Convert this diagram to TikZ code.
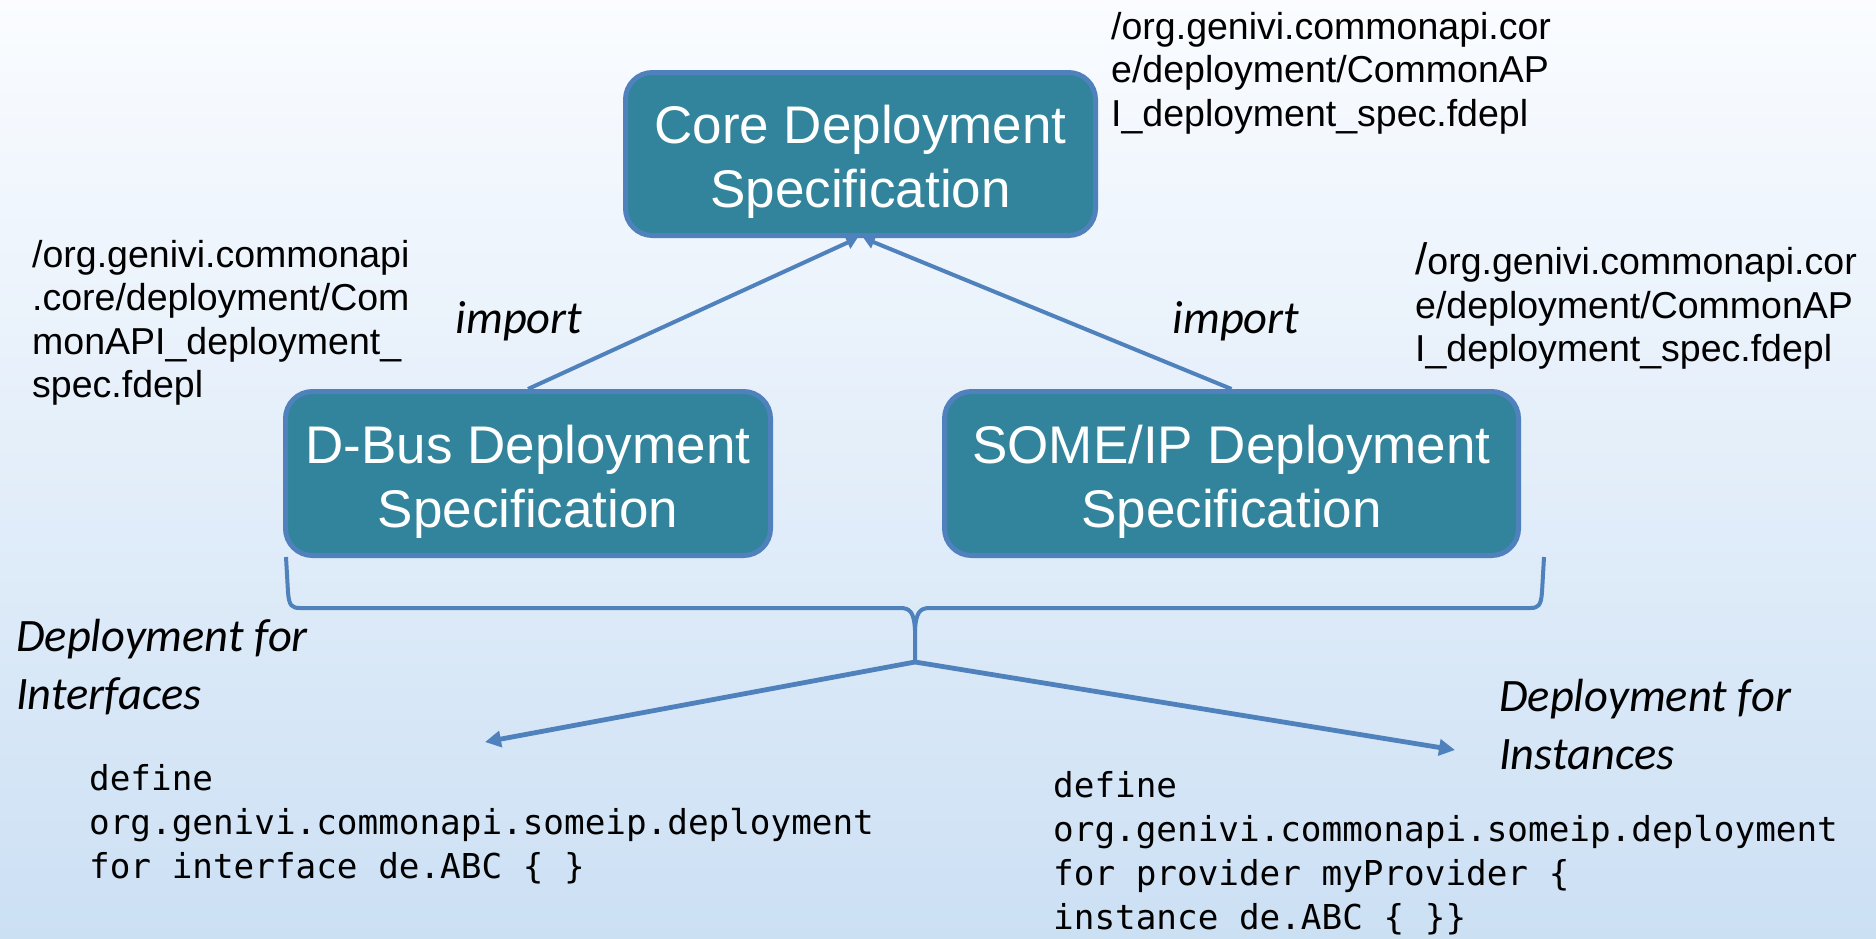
\documentclass[tikz,border=0pt]{standalone}
\usepackage{fontspec}
\setmainfont{Liberation Sans}
\newfontfamily\calib{Carlito}
\newfontfamily\monof{DejaVu Sans Mono}
\usetikzlibrary{arrows.meta}
\definecolor{boxfill}{HTML}{31849B}
\definecolor{boxline}{HTML}{4F81BD}
\definecolor{bgtop}{HTML}{FAFCFF}
\definecolor{bgbot}{HTML}{CCE0F4}
\begin{document}
\begin{tikzpicture}[x=1pt,y=-1pt,
 spec/.style={draw=boxline, line width=5pt, fill=boxfill, rounded corners=27pt, inner sep=0pt},
 spectxt/.style={text=white, align=center, font=\fontsize{53}{64}\selectfont, inner sep=0pt},
 pathtxt/.style={align=left, anchor=west, inner sep=0pt, font=\fontsize{37.5}{43.5}\selectfont},
 lbl/.style={inner sep=0pt, font=\calib\itshape\fontsize{46.5}{58}\selectfont},
 code/.style={align=left, anchor=west, inner sep=0pt, font=\monof\fontsize{34.3}{44}\selectfont},
 imp/.style={draw=boxline, line width=4pt, -{Triangle[length=11pt,width=13pt]}},
 fan/.style={draw=boxline, line width=4.8pt, -{Triangle[length=16pt,width=16pt]}},
 bracestyle/.style={draw=boxline, line width=4pt}]

\shade[top color=bgtop, bottom color=bgbot] (0,0) rectangle (1876,938);
\useasboundingbox (0,0) rectangle (1876,938);

\node[spec, minimum width=470pt, minimum height=163pt] (core) at (860.5,154) {};
\node[spec, minimum width=485pt, minimum height=164pt] (dbus) at (528,473.5) {};
\node[spec, minimum width=574pt, minimum height=164pt] (someip) at (1231.5,473.5) {};
\node[spectxt] (coretxt) at ([yshift=-8pt]core.center) {Core Deployment\\Specification};
\node[spectxt] (dbustxt) at ([yshift=-8pt]dbus.center) {D-Bus Deployment\\Specification};
\node[spectxt] (someiptxt) at ([yshift=-8pt]someip.center) {SOME/IP Deployment\\Specification};

\draw[imp] (dbus.north) -- ([xshift=-3pt]core.south);
\draw[imp] (someip.north) -- ([xshift=3pt]core.south);

\node[lbl] (imp1) at (519,321) {import};
\node[lbl] (imp2) at (1236,321) {import};

\draw[bracestyle] (286,557) -- (288,592) .. controls (289,606) and (292,608) .. (300,608)
  -- (900,608) .. controls (910,608) and (914,612) .. (915,630) -- (915,662);
\draw[bracestyle] (1544,557) -- (1542,592) .. controls (1541,606) and (1538,608) .. (1530,608)
  -- (930,608) .. controls (920,608) and (916,612) .. (915,630);

\coordinate (tip) at (915,662);
\coordinate (ifc) at (485,742);
\coordinate (inst) at (1455,750);
\draw[fan] (tip) -- (ifc);
\draw[fan] (tip) -- (inst);

\node[pathtxt] (p1) at (1111,73) {/org.genivi.commonapi.cor\\e/deployment/CommonAP\\I\_deployment\_spec.fdepl};
\node[pathtxt] (p2) at (1415,306) {{\fontsize{44}{43.5}\selectfont/}org.genivi.commonapi.cor\\e/deployment/CommonAP\\I\_deployment\_spec.fdepl};
\node[pathtxt] (p3) at (32,323) {/org.genivi.commonapi\\.core/deployment/Com\\monAPI\_deployment\_\\spec.fdepl};

\node[lbl, align=left, anchor=west] (dfi) at (16,667) {Deployment for\\Interfaces};
\node[lbl, align=left, anchor=west] (dfin) at (1499,725) {Deployment for\\Instances};

\node[code] (c1) at (89,824) {define\\org.genivi.commonapi.someip.deployment\\for interface de.ABC \{ \}};
\node[code] (c2) at (1053,853) {define\\org.genivi.commonapi.someip.deployment\\for provider myProvider \{\\instance de.ABC \{ \}\}};
\end{tikzpicture}
\end{document}
